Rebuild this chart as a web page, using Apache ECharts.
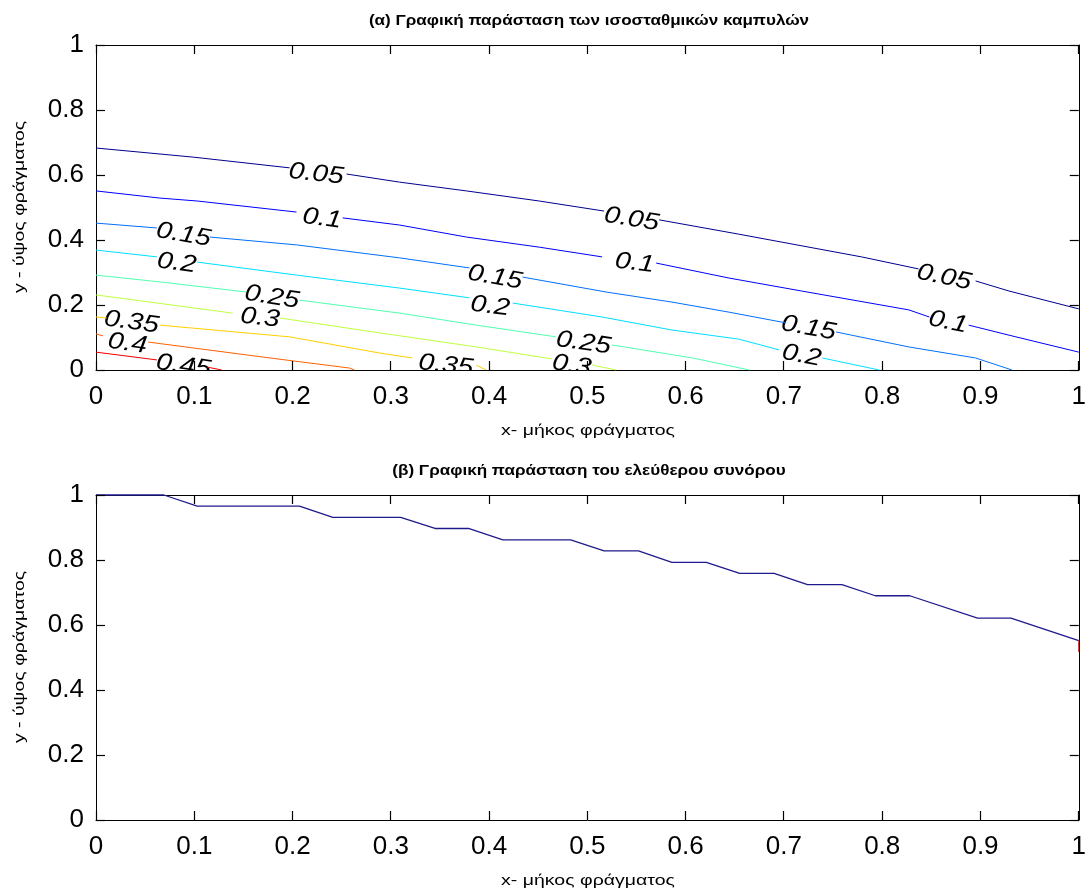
<!DOCTYPE html>
<html>
<head>
<meta charset="utf-8">
<script src="https://cdn.jsdelivr.net/npm/echarts@6/dist/echarts.min.js"></script>
<style>
  html, body { margin: 0; padding: 0; background: #fff; }
  #chart { width: 1089px; height: 892px; }
</style>
</head>
<body>
<div id="chart"></div>
<script>
// Contour levels and their colours (jet-like palette)
const levels = [0.05, 0.1, 0.15, 0.2, 0.25, 0.3, 0.35, 0.4, 0.45];
const levelLabels = ['0.05', '0.1', '0.15', '0.2', '0.25', '0.3', '0.35', '0.4', '0.45'];
const levelColors = ['#00008f', '#0000ff', '#0070ff', '#00dfff', '#50ffaf', '#bfff40', '#ffcf00', '#ff6000', '#ef0000'];

// Each contour is a list of segments; breaks leave room for the inline labels
const contour005 = [
  [[0, 0.683], [0.099, 0.655], [0.197, 0.622]],
  [[0.255, 0.603], [0.309, 0.578], [0.377, 0.551], [0.451, 0.520], [0.517, 0.489]],
  [[0.573, 0.462], [0.654, 0.418], [0.779, 0.348], [0.837, 0.311]],
  [[0.895, 0.274], [0.929, 0.243], [1.0, 0.188]]
];
const contour010 = [
  [[0, 0.551], [0.065, 0.529], [0.103, 0.520], [0.204, 0.486]],
  [[0.251, 0.468], [0.309, 0.446], [0.377, 0.409], [0.451, 0.378], [0.515, 0.348]],
  [[0.570, 0.329], [0.644, 0.283], [0.718, 0.243], [0.827, 0.185], [0.848, 0.163]],
  [[0.888, 0.138], [0.936, 0.102], [1.0, 0.055]]
];
const contour015 = [
  [[0, 0.452], [0.062, 0.437]],
  [[0.116, 0.409], [0.204, 0.385], [0.309, 0.345], [0.380, 0.314]],
  [[0.434, 0.286], [0.519, 0.240], [0.586, 0.209], [0.644, 0.178], [0.702, 0.145]],
  [[0.753, 0.117], [0.827, 0.071], [0.895, 0.037], [0.932, 0.0]]
];
const contour020 = [
  [[0, 0.369], [0.062, 0.348]],
  [[0.103, 0.332], [0.204, 0.292], [0.309, 0.252], [0.380, 0.222]],
  [[0.424, 0.206], [0.515, 0.163], [0.586, 0.123], [0.654, 0.095], [0.695, 0.062]],
  [[0.739, 0.037], [0.797, 0.0]]
];
const contour025 = [
  [[0, 0.292], [0.065, 0.271], [0.153, 0.240]],
  [[0.207, 0.215], [0.309, 0.175], [0.387, 0.138], [0.468, 0.102]],
  [[0.525, 0.077], [0.607, 0.037], [0.665, 0.0]]
];
const contour030 = [
  [[0, 0.231], [0.139, 0.175]],
  [[0.187, 0.160], [0.289, 0.114], [0.387, 0.071], [0.464, 0.034]],
  [[0.505, 0.015], [0.529, 0.0]]
];
const contour035 = [
  [[0, 0.163], [0.011, 0.160]],
  [[0.065, 0.138], [0.197, 0.102], [0.289, 0.052], [0.322, 0.037]],
  [[0.387, 0.015], [0.397, 0.0]]
];
const contour040 = [
  [[0, 0.111], [0.007, 0.105]],
  [[0.053, 0.086], [0.177, 0.037], [0.258, 0.006], [0.263, 0.0]]
];
const contour045 = [
  [[0, 0.055], [0.062, 0.031]],
  [[0.113, 0.009], [0.128, 0.0]]
];
const contours = [contour005, contour010, contour015, contour020, contour025,
                  contour030, contour035, contour040, contour045];

// Inline contour labels: position and level index
const labelX     = [0.224, 0.545, 0.863, 0.230, 0.548, 0.867, 0.089, 0.406, 0.725, 0.082, 0.401, 0.718, 0.179, 0.496, 0.167, 0.484, 0.036, 0.356, 0.032, 0.089];
const labelY     = [0.603, 0.464, 0.285, 0.466, 0.329, 0.147, 0.416, 0.285, 0.129, 0.329, 0.196, 0.044, 0.224, 0.083, 0.160, 0.014, 0.147, 0.014, 0.081, 0.012];
const labelLevel = [0, 0, 0, 1, 1, 1, 2, 2, 2, 3, 3, 3, 4, 4, 5, 5, 6, 6, 7, 8];

// Free boundary of the dam
const boundaryX = [0, 0.069, 0.103, 0.207, 0.241, 0.310, 0.345, 0.379, 0.414, 0.483, 0.517, 0.552, 0.586, 0.621, 0.655, 0.690, 0.724, 0.759, 0.793, 0.828, 0.897, 0.931, 1.0];
const boundaryY = [1.0, 1.0, 0.966, 0.966, 0.931, 0.931, 0.897, 0.897, 0.862, 0.862, 0.828, 0.828, 0.793, 0.793, 0.759, 0.759, 0.724, 0.724, 0.690, 0.690, 0.621, 0.621, 0.552];
const boundaryEndX = [1.0, 1.0];
const boundaryEndY = [0.552, 0.517];

// Ticks and tick labels
const xTickValues = [0, 0.1, 0.2, 0.3, 0.4, 0.5, 0.6, 0.7, 0.8, 0.9, 1];
const xTickLabels = ['0', '0.1', '0.2', '0.3', '0.4', '0.5', '0.6', '0.7', '0.8', '0.9', '1'];
const yTickValues = [0, 0.2, 0.4, 0.6, 0.8, 1];
const yTickLabels = ['0', '0.2', '0.4', '0.6', '0.8', '1'];

const titleTop = '(α) Γραφική παράσταση των ισοσταθμικών καμπυλών';
const titleBottom = '(β) Γραφική παράσταση του ελεύθερου συνόρου';
const xName = 'x- μήκος φράγματος';
const yName = 'y - ύψος φράγματος';

const FONT = 'Liberation Sans, Arial, sans-serif';
const STRETCH = 1.18; // text in this figure is drawn slightly wide
const TICK_LEN = 9;

function axisLine() { return { show: true, onZero: false, lineStyle: { color: '#000', width: 1 } }; }

function mainX(gridIndex) {
  return {
    type: 'value', gridIndex, min: 0, max: 1, interval: 0.1, position: 'bottom',
    axisLine: axisLine(), axisTick: { show: false }, splitLine: { show: false },
    axisLabel: {
      color: '#000', fontSize: 26, fontFamily: FONT, margin: 14,
      formatter: v => xTickLabels[Math.round(v * 10)]
    }
  };
}
function boxX(gridIndex) {
  return {
    type: 'value', gridIndex, min: 0, max: 1, interval: 0.1, position: 'top',
    axisLine: axisLine(), axisTick: { show: false }, axisLabel: { show: false }, splitLine: { show: false }
  };
}
function mainY(gridIndex) {
  return {
    type: 'value', gridIndex, min: 0, max: 1, interval: 0.2, position: 'left',
    axisLine: axisLine(), axisTick: { show: false }, splitLine: { show: false },
    axisLabel: {
      color: '#000', fontSize: 26, fontFamily: FONT, margin: 12,
      formatter: v => yTickLabels[Math.round(v * 5)]
    }
  };
}
function boxY(gridIndex) {
  return {
    type: 'value', gridIndex, min: 0, max: 1, interval: 0.2, position: 'right',
    axisLine: axisLine(), axisTick: { show: false }, axisLabel: { show: false }, splitLine: { show: false }
  };
}

// Inward ticks on all four sides of a plot frame, snapped to whole pixels
function tickSeries(axisIndex) {
  return {
    type: 'custom', xAxisIndex: axisIndex, yAxisIndex: axisIndex, clip: false, silent: true, z: 5,
    data: [[0.5, 0.5]],
    renderItem: function (params, api) {
      const children = [];
      const crisp = v => Math.round(v - 0.5) + 0.5;
      const seg = (x1, y1, x2, y2) => children.push({
        type: 'line', shape: { x1, y1, x2, y2 },
        style: { stroke: '#000', lineWidth: 1.2 }
      });
      xTickValues.forEach(v => {
        const b = api.coord([v, 0]), t = api.coord([v, 1]);
        const x = crisp(b[0]);
        seg(x, b[1], x, b[1] - TICK_LEN);
        seg(x, t[1], x, t[1] + TICK_LEN);
      });
      yTickValues.forEach(v => {
        const l = api.coord([0, v]), r = api.coord([1, v]);
        const y = crisp(l[1]);
        seg(l[0], y, l[0] + TICK_LEN, y);
        seg(r[0], y, r[0] - TICK_LEN, y);
      });
      return { type: 'group', children };
    }
  };
}

const series = [];
contours.forEach((segs, li) => {
  segs.forEach(seg => {
    series.push({
      type: 'line', xAxisIndex: 0, yAxisIndex: 0, data: seg,
      symbol: 'none', silent: true, clip: true, z: 1,
      lineStyle: { color: levelColors[li], width: 1 }
    });
  });
});

// Labels rotated along their contour
series.push({
  type: 'custom', xAxisIndex: 0, yAxisIndex: 0, clip: true, silent: true, z: 1,
  data: labelX.map((x, i) => [x, labelY[i], labelLevel[i]]),
  renderItem: function (params, api) {
    const x = api.value(0), y = api.value(1), lv = api.value(2);
    const p = api.coord([x, y]);
    const pts = [].concat(...contours[lv]);
    let j = 0;
    while (j < pts.length - 2 && pts[j + 1][0] < x) j++;
    const a = api.coord(pts[j]), b = api.coord(pts[j + 1]);
    const rot = -Math.atan2(b[1] - a[1], b[0] - a[0]);
    return {
      type: 'text', x: p[0], y: p[1], rotation: rot, scaleX: STRETCH,
      style: {
        text: levelLabels[lv], fill: '#000',
        fontSize: 24, fontStyle: 'italic', fontFamily: FONT,
        align: 'center', verticalAlign: 'middle'
      }
    };
  }
});

series.push({
  type: 'line', xAxisIndex: 2, yAxisIndex: 2,
  data: boundaryX.map((x, i) => [x, boundaryY[i]]),
  symbol: 'none', silent: true, clip: false, z: 1,
  lineStyle: { color: '#1f1a8c', width: 1.3 }
});
series.push({
  type: 'line', xAxisIndex: 2, yAxisIndex: 2,
  data: boundaryEndX.map((x, i) => [x, boundaryEndY[i]]),
  symbol: 'none', silent: true, clip: false, z: 1,
  lineStyle: { color: '#d00000', width: 1 }
});

series.push(tickSeries(0));
series.push(tickSeries(2));

// Titles and axis names, drawn as stretched text
function wideText(text, x, y, size, weight, extra) {
  return Object.assign({
    type: 'text', x, y, silent: true,
    style: { text, fill: '#000', align: 'center', verticalAlign: 'middle',
             fontFamily: FONT, fontSize: size, fontWeight: weight }
  }, extra);
}
const graphics = [
  wideText(titleTop, 589, 21, 14, 'bold', { scaleX: 1.22 }),
  wideText(titleBottom, 589, 471, 14, 'bold', { scaleX: 1.22 }),
  wideText(xName, 588, 431, 15, 'normal', { scaleX: 1.3 }),
  wideText(xName, 588, 881, 15, 'normal', { scaleX: 1.3 }),
  wideText(yName, 20, 207, 15, 'normal', { scaleX: 1.3, rotation: Math.PI / 2 }),
  wideText(yName, 20, 657, 15, 'normal', { scaleX: 1.3, rotation: Math.PI / 2 })
];

const chart = echarts.init(document.getElementById('chart'), null, { renderer: 'canvas' });
chart.setOption({
  animation: false,
  backgroundColor: '#fff',
  grid: [
    { left: 96, right: 9, top: 45, height: 325 },
    { left: 96, right: 9, top: 495, height: 325 }
  ],
  xAxis: [mainX(0), boxX(0), mainX(1), boxX(1)],
  yAxis: [mainY(0), boxY(0), mainY(1), boxY(1)],
  graphic: graphics,
  series
});
</script>
</body>
</html>
